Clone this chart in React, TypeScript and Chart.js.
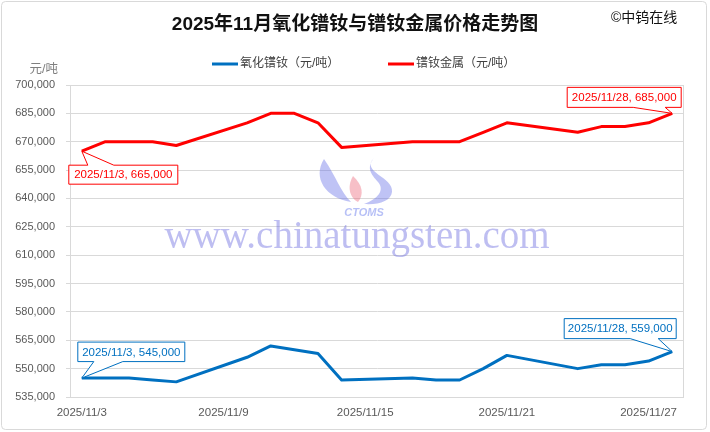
import React, { useEffect, useRef } from "react";
import { Chart, registerables } from "chart.js";

Chart.register(...registerables);

const title = "2025年11月氧化镨钕与镨钕金属价格走势图";
const copyright = "©中钨在线";
const unitLabel = "元/吨";
const watermarkText = "www.chinatungsten.com";

const dates = [
  "2025/11/3", "2025/11/4", "2025/11/5", "2025/11/6", "2025/11/7",
  "2025/11/10", "2025/11/11", "2025/11/12", "2025/11/13", "2025/11/14",
  "2025/11/17", "2025/11/18", "2025/11/19", "2025/11/20", "2025/11/21",
  "2025/11/24", "2025/11/25", "2025/11/26", "2025/11/27", "2025/11/28",
];
const oxideName = "氧化镨钕（元/吨）";
const oxideValues = [
  545000, 545000, 545000, 544000, 543000,
  556000, 562000, 560000, 558000, 544000,
  545000, 544000, 544000, 550000, 557000,
  550000, 552000, 552000, 554000, 559000,
];
const metalName = "镨钕金属（元/吨）";
const metalValues = [
  665000, 670000, 670000, 670000, 668000,
  680000, 685000, 685000, 680000, 667000,
  670000, 670000, 670000, 675000, 680000,
  675000, 678000, 678000, 680000, 685000,
];
const xTickLabels = ["2025/11/3", "2025/11/9", "2025/11/15", "2025/11/21", "2025/11/27"];
const xMinDay = 2.5;
const xMaxDay = 28.5;
const yMin = 535000;
const yMax = 700000;
const yStep = 15000;

const BLUE = "#0070C0";
const RED = "#FF0000";
const GRID = "#d9d9d9";
const FONT = "'Liberation Sans', 'Noto Sans CJK SC', sans-serif";

const dayOf = (s: string) => Number(s.split("/")[2]);
const fmt = (v: number) => v.toLocaleString("en-US");

function drawCallout(
  ctx: CanvasRenderingContext2D,
  px: number, py: number,
  text: string, color: string,
  left: number, top: number, w: number, h: number,
  w1: number, w2: number, wedgeOnTop: boolean
) {
  const L = px + left, T = py + top, R = L + w, B = T + h;
  ctx.save();
  ctx.beginPath();
  if (wedgeOnTop) {
    ctx.moveTo(L, T);
    ctx.lineTo(px + w1, T);
    ctx.lineTo(px, py);
    ctx.lineTo(px + w2, T);
    ctx.lineTo(R, T);
    ctx.lineTo(R, B);
    ctx.lineTo(L, B);
  } else {
    ctx.moveTo(L, T);
    ctx.lineTo(R, T);
    ctx.lineTo(R, B);
    ctx.lineTo(px + w2, B);
    ctx.lineTo(px, py);
    ctx.lineTo(px + w1, B);
    ctx.lineTo(L, B);
  }
  ctx.closePath();
  ctx.fillStyle = "#ffffff";
  ctx.fill();
  ctx.strokeStyle = color;
  ctx.lineWidth = 1;
  ctx.stroke();
  ctx.fillStyle = color;
  ctx.font = `11.5px ${FONT}`;
  ctx.textAlign = "center";
  ctx.textBaseline = "middle";
  ctx.fillText(text, (L + R) / 2, (T + B) / 2 + 0.5);
  ctx.restore();
}

const decorPlugin = {
  id: "decor",
  beforeDraw(chart: any) {
    const ctx = chart.ctx as CanvasRenderingContext2D;
    ctx.save();
    ctx.fillStyle = "#ffffff";
    ctx.fillRect(0, 0, chart.width, chart.height);
    ctx.strokeStyle = GRID;
    ctx.lineWidth = 1;
    ctx.beginPath();
    (ctx as any).roundRect(1.5, 1.5, 705, 428, 4);
    ctx.stroke();
    ctx.restore();
  },
  beforeDatasetsDraw(chart: any) {
    const ctx = chart.ctx as CanvasRenderingContext2D;
    const a = chart.chartArea;
    ctx.save();
    ctx.strokeStyle = GRID;
    ctx.lineWidth = 1;
    ctx.strokeRect(Math.round(a.left) + 0.5, Math.round(a.top) + 0.5, Math.round(a.right - a.left) - 1, Math.round(a.bottom - a.top));
    // watermark logo
    ctx.fillStyle = "rgba(95,105,230,0.4)";
    ctx.beginPath();
    ctx.moveTo(324, 159);
    ctx.bezierCurveTo(312, 178, 326, 198, 351, 202);
    ctx.bezierCurveTo(340, 191, 337, 178, 324, 159);
    ctx.fill();
    ctx.beginPath();
    ctx.moveTo(374, 158);
    ctx.bezierCurveTo(360, 172, 394, 177, 392, 192);
    ctx.bezierCurveTo(391, 201, 379, 205, 364, 204);
    ctx.bezierCurveTo(378, 199, 385, 190, 378, 182);
    ctx.bezierCurveTo(371, 174, 366, 168, 374, 158);
    ctx.fill();
    ctx.fillStyle = "rgba(235,95,115,0.4)";
    ctx.beginPath();
    ctx.moveTo(353, 176);
    ctx.bezierCurveTo(346, 188, 351, 199, 358, 202);
    ctx.bezierCurveTo(364, 195, 363, 185, 353, 176);
    ctx.fill();
    ctx.fillStyle = "rgba(95,115,235,0.45)";
    ctx.font = `italic bold 11px ${FONT}`;
    ctx.textAlign = "center";
    ctx.textBaseline = "middle";
    ctx.fillText("CTOMS", 364, 213);
    ctx.fillStyle = "rgba(110,110,225,0.45)";
    ctx.font = `39px 'Liberation Serif', serif`;
    ctx.fillText(watermarkText, 357, 238);
    ctx.restore();
  },
  afterDraw(chart: any) {
    const ctx = chart.ctx as CanvasRenderingContext2D;
    ctx.save();
    // title
    ctx.fillStyle = "#111111";
    ctx.font = `bold 19px ${FONT}`;
    ctx.textAlign = "center";
    ctx.textBaseline = "middle";
    ctx.fillText(title, 355, 25);
    ctx.font = `14px ${FONT}`;
    ctx.textAlign = "left";
    ctx.fillText(copyright, 611, 18);
    // unit
    ctx.fillStyle = "#7f7f7f";
    ctx.font = `12.5px ${FONT}`;
    ctx.textAlign = "right";
    ctx.fillText(unitLabel, 58, 70);
    // legend
    const items = [
      { x: 212, ds: chart.data.datasets[0] },
      { x: 388, ds: chart.data.datasets[1] },
    ];
    ctx.font = `12px ${FONT}`;
    ctx.textAlign = "left";
    for (const it of items) {
      ctx.strokeStyle = it.ds.borderColor;
      ctx.lineWidth = 3;
      ctx.beginPath();
      ctx.moveTo(it.x, 64);
      ctx.lineTo(it.x + 26, 64);
      ctx.stroke();
      ctx.fillStyle = "#404040";
      ctx.fillText(it.ds.label, it.x + 28, 64);
    }
    // callouts
    const xs = chart.scales.x, ys = chart.scales.y;
    const n = dates.length - 1;
    const p = (i: number, vals: number[]) => [xs.getPixelForValue(dayOf(dates[i])), ys.getPixelForValue(vals[i])];
    let [px, py] = p(0, metalValues);
    drawCallout(ctx, px, py, `${dates[0]}, ${fmt(metalValues[0])}`, RED, -13, 14, 109, 19, 6, 32, true);
    [px, py] = p(n, metalValues);
    drawCallout(ctx, px, py, `${dates[n]}, ${fmt(metalValues[n])}`, RED, -105, -26, 114, 20, -39, -7, false);
    [px, py] = p(0, oxideValues);
    drawCallout(ctx, px, py, `${dates[0]}, ${fmt(oxideValues[0])}`, BLUE, -4, -36, 107, 19.5, 12, 41, false);
    [px, py] = p(n, oxideValues);
    drawCallout(ctx, px, py, `${dates[n]}, ${fmt(oxideValues[n])}`, BLUE, -108, -33, 112, 20, -42, -14, false);
    ctx.restore();
  },
};

export default function App() {
  const ref = useRef<HTMLCanvasElement | null>(null);
  useEffect(() => {
    if (!ref.current) return;
    const chart = new Chart(ref.current, {
      type: "line",
      data: {
        datasets: [
          {
            label: oxideName,
            data: dates.map((d, i) => ({ x: dayOf(d), y: oxideValues[i] })),
            borderColor: BLUE,
            backgroundColor: BLUE,
            borderWidth: 3,
            pointRadius: 0,
            tension: 0,
            borderJoinStyle: "round",
          },
          {
            label: metalName,
            data: dates.map((d, i) => ({ x: dayOf(d), y: metalValues[i] })),
            borderColor: RED,
            backgroundColor: RED,
            borderWidth: 3,
            pointRadius: 0,
            tension: 0,
            borderJoinStyle: "round",
          },
        ],
      },
      options: {
        responsive: false,
        animation: false,
        events: [],
        layout: { padding: { left: 0, right: 26, top: 85, bottom: 0 } },
        plugins: { legend: { display: false }, tooltip: { enabled: false }, title: { display: false } },
        scales: {
          x: {
            type: "linear",
            min: xMinDay,
            max: xMaxDay,
            afterBuildTicks: (s: any) => {
              s.ticks = xTickLabels.map((t) => ({ value: dayOf(t) }));
            },
            afterFit: (s: any) => {
              s.height = 35;
            },
            grid: { display: false, drawTicks: false },
            border: { display: false },
            ticks: {
              autoSkip: false,
              maxRotation: 0,
              padding: 9,
              color: "#595959",
              font: { family: FONT, size: 11.5 },
              callback: (v: any) => {
                const lbl = xTickLabels.find((t) => dayOf(t) === v);
                return lbl ?? "";
              },
            },
          },
          y: {
            min: yMin,
            max: yMax,
            afterFit: (s: any) => {
              s.width = 70;
            },
            grid: { color: GRID, tickLength: 4, tickColor: GRID, lineWidth: 1 },
            border: { display: true, color: GRID },
            ticks: {
              stepSize: yStep,
              padding: 11,
              color: "#595959",
              font: { family: FONT, size: 11 },
              callback: (v: any) => fmt(Number(v)),
            },
          },
        },
      },
      plugins: [decorPlugin],
    } as any);
    return () => chart.destroy();
  }, []);
  return (
    <div style={{ position: "fixed", left: 0, top: 0, width: 710, height: 432 }}>
      <canvas ref={ref} width={710} height={432} style={{ display: "block", width: 710, height: 432 }} />
    </div>
  );
}
